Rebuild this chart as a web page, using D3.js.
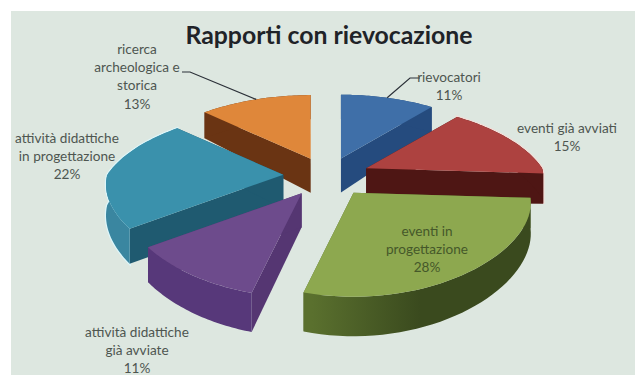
<!DOCTYPE html>
<html>
<head>
<meta charset="utf-8">
<script src="https://cdn.jsdelivr.net/npm/d3@7"></script>
<style>
  html, body { margin: 0; padding: 0; background: #ffffff; }
  svg { display: block; }
  text { font-family: Lato, "Open Sans", sans-serif; }
</style>
</head>
<body>
<div id="chart"></div>
<script>
const chartTitle = "Rapporti con rievocazione";
const categories = ["rievocatori", "eventi già avviati", "eventi in progettazione",
  "attività didattiche già avviate", "attività didattiche in progettazione",
  "ricerca archeologica e storica"];
const percentages = [11, 15, 28, 11, 22, 13];
const labelLines = [
  ["rievocatori", "11%"],
  ["eventi già avviati", "15%"],
  ["eventi in", "progettazione", "28%"],
  ["attività didattiche", "già avviate", "11%"],
  ["attività didattiche", "in progettazione", "22%"],
  ["ricerca", "archeologica e", "storica", "13%"]
];
const topColors = ["#3f6fa8", "#ad4240", "#8da84f", "#6d4b8c", "#3a91ac", "#df873a"];
const sideColors = ["#254b7e", "#4e1614", "#55692c", "#553672", "#1f5a70", "#6a3413"];
const rimColors = ["#254b7e", "#4e1614", "url(#greenRim)", "#57387a", "#3a86a0", "#6a3413"];
const haloColors = [null, "#f6dcd6", null, null, "#dcf6fa", null];

// Label anchors: centre x and the baseline of the first line
const labelAnchors = [[449, 82], [567, 133], [427, 236], [137, 337], [67, 143], [137, 54]];
// Slices whose label is tied to the pie by a leader line, with the elbow next to the text
const leaders = [{ slice: 0, elbow: [410, 78], end: [420, 78] }, { slice: 5, elbow: [190, 72], end: [182, 72] }];

const width = 635, height = 375;
const cx = 327, cy = 176;
const radiusX = 176, radiusY = 79, perspective = 0.24;
const farWidthPower = 1.25, nearWidthPower = 0.5;
const explode = 0.25, rimDepth = 30, apexDepth = 34;

const svg = d3.select("#chart").append("svg").attr("width", width).attr("height", height);
svg.append("rect").attr("x", 11).attr("y", 11).attr("width", width - 11).attr("height", height - 11).attr("fill", "#dde7e0");

const grad = svg.append("defs").append("linearGradient").attr("id", "greenRim")
  .attr("gradientUnits", "userSpaceOnUse").attr("x1", 312).attr("x2", 420).attr("y1", 0).attr("y2", 0);
grad.append("stop").attr("offset", 0).attr("stop-color", "#5a702e");
grad.append("stop").attr("offset", 1).attr("stop-color", "#3a4a1e");

const pie = d3.pie().sort(null).value(d => d);
const arcs = pie(percentages);

// Perspective projection of a point on the unit disc; angle 0 is at the back, growing clockwise
function project(u, v) {
  const s = 1 / (1 - perspective * v);
  const widthScale = Math.pow(s, v < 0 ? farWidthPower : nearWidthPower);
  return { x: radiusX * u * widthScale, y: radiusY * v * s, s };
}
const polar = (a, r) => project(r * Math.sin(a), -r * Math.cos(a));

const line = d3.line().x(d => d[0]).y(d => d[1]);

const slices = arcs.map((arc, i) => {
  const mid = (arc.startAngle + arc.endAngle) / 2;
  const off = polar(mid, explode);
  const ox = cx + off.x, oy = cy + off.y;
  const steps = d3.range(0, 41).map(k => arc.startAngle + (arc.endAngle - arc.startAngle) * k / 40);
  const rim = steps.map(a => {
    const p = polar(a, 1);
    return { x: ox + p.x, y: oy + p.y, d: rimDepth * p.s };
  });
  return { i, arc, mid, ox, oy, rim };
});

// Back slices first, so the nearer ones overlap them
const paintOrder = [5, 0, 1, 4, 3, 2];
paintOrder.forEach(i => {
  const s = slices[i];
  const g = svg.append("g").attr("class", "slice");
  const first = s.rim[0], last = s.rim[s.rim.length - 1];
  const apex = [s.ox, s.oy], apexLow = [s.ox, s.oy + apexDepth];
  const rimBand = s.rim.map(p => [p.x, p.y]).concat(s.rim.slice().reverse().map(p => [p.x, p.y + p.d]));

  if (haloColors[i]) {
    g.append("path").attr("d", line(rimBand) + "Z")
      .attr("fill", "none").attr("stroke", haloColors[i]).attr("stroke-width", 2.5);
  }
  [first, last].forEach(p => {
    g.append("path")
      .attr("d", line([apex, [p.x, p.y], [p.x, p.y + p.d], apexLow]) + "Z")
      .attr("fill", sideColors[i]);
  });
  g.append("path").attr("d", line(rimBand) + "Z").attr("fill", rimColors[i]);
  g.append("path")
    .attr("d", line([apex].concat(s.rim.map(p => [p.x, p.y]))) + "Z")
    .attr("fill", topColors[i]);
});

// Leader lines run from the rim at the middle of the slice to the label
leaders.forEach(l => {
  const s = slices[l.slice];
  const p = polar(s.mid, 1);
  svg.append("path")
    .attr("d", line([[s.ox + p.x, s.oy + p.y], l.elbow, l.end]))
    .attr("fill", "none").attr("stroke", "#2b3038").attr("stroke-width", 1.2);
});

labelLines.forEach((lines, i) => {
  const t = svg.append("text")
    .attr("text-anchor", "middle")
    .attr("font-size", 13.6)
    .attr("fill", i === 2 ? "#45582a" : "#4e5650");
  lines.forEach((txt, k) => {
    t.append("tspan")
      .attr("x", labelAnchors[i][0])
      .attr("y", labelAnchors[i][1] + k * 18.2)
      .text(txt);
  });
});

svg.append("text")
  .attr("x", 329).attr("y", 44)
  .attr("text-anchor", "middle")
  .attr("font-size", 24.8)
  .attr("font-weight", 700)
  .attr("fill", "#1f2328")
  .text(chartTitle);
</script>
</body>
</html>
